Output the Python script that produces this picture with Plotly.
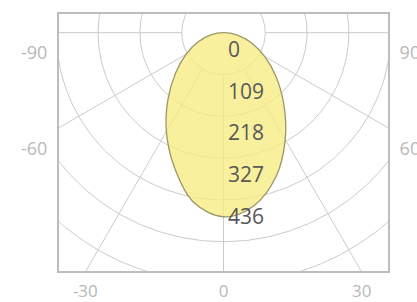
import numpy as np
import plotly.graph_objects as go

# ---- data ----
angles = [-90, -80, -70, -60, -50, -40, -30, -20, -10, 0,
          10, 20, 30, 40, 50, 60, 70, 80, 90]
candela = [0, 34, 71, 113, 163, 225, 298, 374, 449, 480,
           458, 400, 322, 245, 179, 124, 78, 37, 0]
ring_values = [0, 109, 218, 327, 436]
ring_labels = ["0", "109", "218", "327", "436"]
ring_step = 109
n_rings = 7
grid_angles = [-180, -150, -120, -90, -60, -30, 0, 30, 60, 90, 120, 150]
side_angles = [90, 60]
left_labels = ["-90", "-60"]
right_labels = ["90", "60"]
bottom_angles = [-30, 0, 30]
bottom_labels = ["-30", "0", "30"]

# ---- layout geometry ----
W, H = 417, 302
ml, mr, mt, mb = 58, 28, 13, 30
pw, ph = W - ml - mr, H - mt - mb
cd_per_px = ring_step / 41.8
center_from_top = 19.7
x_half = pw / 2 * cd_per_px
y_top = center_from_top * cd_per_px
y_bot = -(ph - center_from_top) * cd_per_px
side_offset = 20 * cd_per_px

grid_col = "#cbcbcb"

# grid circles
gx, gy = [], []
t = np.linspace(0, 2 * np.pi, 361)
for k in range(1, n_rings + 1):
    r = k * ring_step
    gx += list(r * np.sin(t)) + [None]
    gy += list(r * np.cos(t)) + [None]
# radial lines
for a in grid_angles:
    th = np.radians(a)
    r0, r1 = ring_step, 2000
    gx += [r0 * np.sin(th), r1 * np.sin(th), None]
    gy += [-r0 * np.cos(th), -r1 * np.cos(th), None]

th = np.radians(angles)
cx = np.array(candela) * np.sin(th)
cy = -np.array(candela) * np.cos(th)

fig = go.Figure()
fig.add_trace(go.Scatter(x=gx, y=gy, mode="lines",
                         line=dict(color=grid_col, width=1),
                         hoverinfo="skip", showlegend=False))
fig.add_trace(go.Scatter(x=cx, y=cy, mode="lines", fill="toself",
                         fillcolor="rgba(247,236,130,0.78)",
                         line=dict(color="#9c9668", width=1.3, shape="spline", smoothing=1),
                         hoverinfo="skip", showlegend=False))
# invisible trace to anchor right axis
fig.add_trace(go.Scatter(x=[0], y=[0], yaxis="y2", mode="markers",
                         marker=dict(opacity=0), hoverinfo="skip", showlegend=False))

for v, lab in zip(ring_values, ring_labels):
    fig.add_annotation(x=0, y=-v, text=lab, showarrow=False,
                       xanchor="left", yanchor="middle", xshift=2, yshift=-16,
                       font=dict(family="Open Sans", size=21, color="#585858"))

side_y = [-x_half * np.cos(np.radians(a)) / np.sin(np.radians(a)) - side_offset
          for a in side_angles]
bottom_x = [abs(y_bot) * np.tan(np.radians(a)) for a in bottom_angles]

tick_font = dict(family="Open Sans", size=18, color="#b8b8b8")
bottom_font = dict(family="Open Sans", size=17, color="#b8b8b8")
fig.update_layout(
    width=W, height=H,
    margin=dict(l=ml, r=mr, t=mt, b=mb, autoexpand=False),
    paper_bgcolor="white", plot_bgcolor="white",
    xaxis=dict(range=[-x_half, x_half], showgrid=False, zeroline=False,
               automargin=False,
               tickvals=bottom_x, ticktext=bottom_labels, tickfont=bottom_font,
               ticks="outside", ticklen=4, tickcolor="rgba(0,0,0,0)"),
    yaxis=dict(range=[y_bot, y_top], showgrid=False, zeroline=False,
               automargin=False,
               tickvals=side_y, ticktext=left_labels, tickfont=tick_font,
               ticks="outside", ticklen=6, tickcolor="rgba(0,0,0,0)"),
    yaxis2=dict(range=[y_bot, y_top], overlaying="y", side="right",
                showgrid=False, zeroline=False, automargin=False,
                tickvals=side_y, ticktext=right_labels, tickfont=tick_font,
                ticks="outside", ticklen=6, tickcolor="rgba(0,0,0,0)"),
    shapes=[dict(type="rect", xref="paper", yref="paper", x0=0, x1=1, y0=0, y1=1,
                 line=dict(color="#bdbdbd", width=2), layer="above")],
    showlegend=False,
)

fig.write_html("out.html", config={"displayModeBar": False},
               post_script="document.body.style.margin='0';document.body.style.overflow='hidden';")
